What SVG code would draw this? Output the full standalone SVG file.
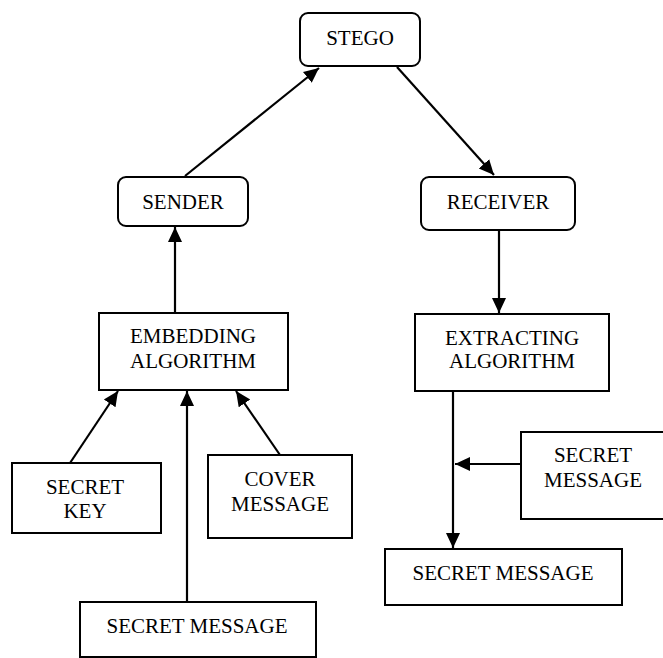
<svg xmlns="http://www.w3.org/2000/svg" width="663" height="658" viewBox="0 0 663 658">
<defs>
<style>
.box{fill:#fff;stroke:#000;stroke-width:2}
.t{font-family:'Liberation Serif','DejaVu Serif',serif;font-size:21px;fill:#000;text-anchor:middle}
.c{stroke:#000;stroke-width:2.2;fill:none;marker-end:url(#ah)}
</style>
<marker id="ah" markerUnits="userSpaceOnUse" markerWidth="16" markerHeight="16" viewBox="0 0 16 16" refX="15" refY="8" orient="auto">
<path d="M0,1 L15,8 L0,15 z" fill="#000"/>
</marker>
</defs>
<rect width="663" height="658" fill="#fff"/>
<g id="connectors">
<line class="c" x1="185" y1="176" x2="319" y2="68"/>
<line class="c" x1="397" y1="67" x2="494" y2="175"/>
<line class="c" x1="175" y1="312" x2="175" y2="227"/>
<line class="c" x1="499" y1="230" x2="499" y2="313"/>
<line class="c" x1="70" y1="463" x2="118" y2="391"/>
<line class="c" x1="187" y1="602" x2="187" y2="391"/>
<line class="c" x1="280" y1="455" x2="236" y2="391"/>
<line class="c" x1="453" y1="387" x2="453" y2="548"/>
<line class="c" x1="521" y1="464" x2="455" y2="464"/>
</g>
<g id="stego"><rect class="box" x="300" y="13" width="120" height="53" rx="8"/><text class="t" font-family="Liberation Serif, serif" x="360" y="45">STEGO</text></g>
<g id="sender"><rect class="box" x="118" y="177" width="130" height="49" rx="8"/><text class="t" font-family="Liberation Serif, serif" x="183" y="209">SENDER</text></g>
<g id="receiver"><rect class="box" x="421" y="177" width="154" height="53" rx="8"/><text class="t" font-family="Liberation Serif, serif" x="498" y="209">RECEIVER</text></g>
<g id="embedding"><rect class="box" x="99" y="313" width="189" height="77"/><text class="t" font-family="Liberation Serif, serif" x="193" y="343">EMBEDDING</text><text class="t" font-family="Liberation Serif, serif" x="193" y="368">ALGORITHM</text></g>
<g id="extracting"><rect class="box" x="415" y="314" width="194" height="77"/><text class="t" font-family="Liberation Serif, serif" x="512" y="345">EXTRACTING</text><text class="t" font-family="Liberation Serif, serif" x="512" y="368">ALGORITHM</text></g>
<g id="secret-key"><rect class="box" x="12" y="463" width="149" height="70"/><text class="t" font-family="Liberation Serif, serif" x="85" y="494">SECRET</text><text class="t" font-family="Liberation Serif, serif" x="85" y="518">KEY</text></g>
<g id="cover-message"><rect class="box" x="208" y="455" width="144" height="83"/><text class="t" font-family="Liberation Serif, serif" x="280" y="486">COVER</text><text class="t" font-family="Liberation Serif, serif" x="280" y="511">MESSAGE</text></g>
<g id="secret-message-in"><rect class="box" x="80" y="602" width="236" height="55"/><text class="t" font-family="Liberation Serif, serif" x="197" y="633">SECRET MESSAGE</text></g>
<g id="secret-message-side"><rect class="box" x="521" y="432" width="160" height="87"/><text class="t" font-family="Liberation Serif, serif" x="593" y="462">SECRET</text><text class="t" font-family="Liberation Serif, serif" x="593" y="487">MESSAGE</text></g>
<g id="secret-message-out"><rect class="box" x="385" y="549" width="237" height="56"/><text class="t" font-family="Liberation Serif, serif" x="503" y="580">SECRET MESSAGE</text></g>
</svg>
